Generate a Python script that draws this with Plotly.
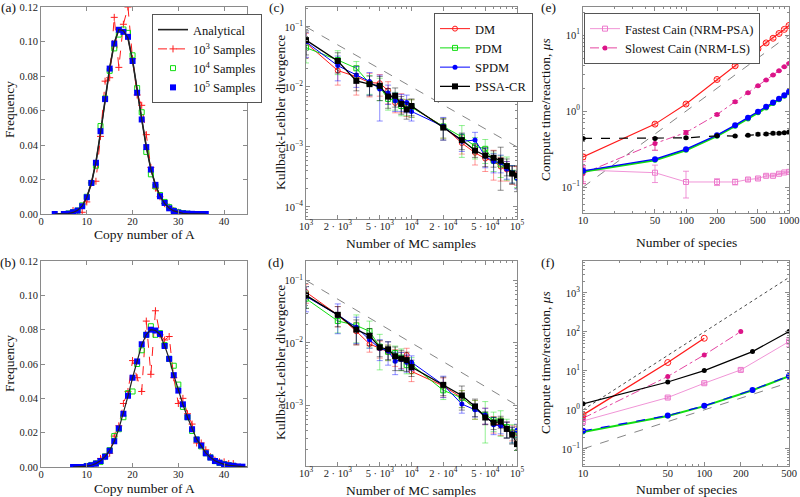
import plotly.graph_objects as go
from plotly.subplots import make_subplots

FONT = "'Liberation Serif', 'DejaVu Serif', serif"
AXIS_GREY = "#8a8a8a"

# ---------------- panel (a) ----------------
a_ana_x = list(range(3, 37))
a_ana_y = [0, 0, 0.0001, 0.0003, 0.0009, 0.0022, 0.0047, 0.0096, 0.0178, 0.0300, 0.0470, 0.0665,
           0.0845, 0.0990, 0.1070, 0.1062, 0.1020, 0.0890, 0.0705, 0.0550, 0.0390, 0.0260, 0.0168,
           0.0104, 0.0062, 0.0035, 0.0018, 0.0009, 0.0004, 0.0002, 0.0001, 0, 0, 0]
a_e3_x = list(range(7, 31))
a_e3_y = [0.002, 0.001, 0.001, 0.007, 0.018, 0.019, 0.045, 0.077, 0.079, 0.114, 0.085, 0.110,
          0.120, 0.090, 0.069, 0.063, 0.046, 0.027, 0.015, 0.010, 0.006, 0.004, 0.002, 0.001]
a_e4_x = list(range(5, 34))
a_e4_y = [0, 0.0003, 0.001, 0.002, 0.005, 0.010, 0.018, 0.028, 0.051, 0.067, 0.083, 0.096, 0.104,
          0.107, 0.105, 0.092, 0.073, 0.059, 0.036, 0.023, 0.016, 0.011, 0.007, 0.004, 0.002,
          0.001, 0.0005, 0.0002, 0]
a_e5_x = [3] + list(range(5, 37))
a_e5_y = [0, 0, 0.0002, 0.001, 0.002, 0.0045, 0.0097, 0.018, 0.0297, 0.048, 0.0666, 0.0843,
          0.0988, 0.1068, 0.1056, 0.1027, 0.0887, 0.0703, 0.0548, 0.0388, 0.0258, 0.0169, 0.0103,
          0.0064, 0.0033, 0.0017, 0.0008, 0.0004, 0.0002, 0.0001, 0, 0, 0]

# ---------------- panel (b) ----------------
b_ana_x = list(range(7, 46))
b_ana_y = [0, 0.0001, 0.0002, 0.0005, 0.001, 0.002, 0.0036, 0.006, 0.0096, 0.0148, 0.0222,
           0.031, 0.0413, 0.052, 0.0618, 0.0712, 0.0772, 0.0800, 0.0795, 0.0772, 0.0708, 0.0630,
           0.0536, 0.0446, 0.0364, 0.0290, 0.0222, 0.0162, 0.0123, 0.0082, 0.0056, 0.0036, 0.0025,
           0.0015, 0.001, 0.0006, 0.0003, 0.0002, 0.0001]
b_e3_x = list(range(12, 44))
b_e3_y = [0.002, 0.005, 0.006, 0.008, 0.018, 0.024, 0.037, 0.044, 0.062, 0.052, 0.044, 0.085,
          0.054, 0.091, 0.077, 0.074, 0.076, 0.052, 0.037, 0.040, 0.031, 0.025, 0.014, 0.014,
          0.010, 0.006, 0.004, 0.003, 0.003, 0.002, 0.002, 0]
b_e4_x = list(range(10, 43))
b_e4_y = [0.0006, 0.0012, 0.0021, 0.0030, 0.0062, 0.0098, 0.018, 0.022, 0.029, 0.043, 0.044,
          0.060, 0.068, 0.077, 0.082, 0.077, 0.078, 0.071, 0.063, 0.059, 0.048, 0.035, 0.029,
          0.021, 0.016, 0.012, 0.008, 0.0056, 0.0034, 0.0024, 0.0016, 0.0011, 0.0007]
b_e5_x = list(range(7, 45))
b_e5_y = [0, 0, 0, 0.0005, 0.001, 0.002, 0.0035, 0.006, 0.0095, 0.015, 0.0225, 0.031, 0.0415,
          0.052, 0.0615, 0.0715, 0.077, 0.080, 0.0795, 0.0775, 0.0705, 0.063, 0.0535, 0.0445,
          0.0365, 0.029, 0.022, 0.016, 0.0125, 0.008, 0.0055, 0.0035, 0.0025, 0.0015, 0.001,
          0.0007, 0.0003, 0.0002]

# ---------------- panels (c) and (d) ----------------
mc_x = [1000, 2000, 3000, 4000, 5000, 6000, 7000, 8000, 9000, 10000,
        20000, 30000, 40000, 50000, 60000, 70000, 80000, 90000, 100000]
mc_ref_x = [1000, 100000]
mc_ref_y = [0.1, 0.001]

c_dm = [0.054, 0.0187, 0.0148, 0.0118, 0.0115, 0.0087, 0.0054, 0.0057, 0.0047, 0.0046,
        0.0022, 0.00116, 0.0008, 0.00064, 0.00058, 0.00047, 0.00042, 0.00036, 0.00035]
c_dm_err = [0.024, 0.008, 0.0075, 0.005, 0.0045, 0.0035, 0.0017, 0.002, 0.0015, 0.0015,
            0.0008, 0.0004, 0.0003, 0.00025, 0.0003, 0.0002, 0.00015, 0.00012, 0.00012]
c_pdm = [0.045, 0.028, 0.0204, 0.0115, 0.0099, 0.0063, 0.0061, 0.0048, 0.0047, 0.0046,
         0.0022, 0.00147, 0.00103, 0.00093, 0.00059, 0.00051, 0.00048, 0.00037, 0.00031]
c_pdm_err = [0.02, 0.012, 0.006, 0.004, 0.004, 0.0022, 0.002, 0.0015, 0.0014, 0.0015,
             0.0008, 0.0008, 0.0004, 0.0004, 0.0002, 0.0002, 0.0002, 0.00012, 0.0001]
c_spdm = [0.056, 0.0226, 0.0158, 0.0123, 0.0092, 0.0079, 0.0059, 0.0057, 0.0055, 0.0039,
          0.0022, 0.00124, 0.0013, 0.0007, 0.00057, 0.00055, 0.00043, 0.00037, 0.0003]
c_spdm_err = [0.025, 0.01, 0.006, 0.005, 0.0065, 0.0028, 0.002, 0.0018, 0.0018, 0.0012,
              0.0009, 0.0004, 0.00045, 0.00025, 0.0002, 0.00018, 0.00014, 0.00012, 0.0001]
c_pssa = [0.060, 0.027, 0.0126, 0.0111, 0.0104, 0.0069, 0.0071, 0.0052, 0.0042, 0.0048,
          0.0021, 0.0013, 0.00087, 0.00072, 0.00066, 0.00059, 0.00048, 0.00036, 0.00033]
c_pssa_err = [0.026, 0.01, 0.004, 0.004, 0.0045, 0.0025, 0.0025, 0.0017, 0.0013, 0.0015,
              0.0008, 0.0004, 0.0002, 0.00025, 0.0002, 0.0004, 0.00015, 0.00012, 0.00015]

d_dm = [0.065, 0.028, 0.0153, 0.0096, 0.0082, 0.0072, 0.0060, 0.0055, 0.0064, 0.0035,
        0.00205, 0.00132, 0.0009, 0.0007, 0.00051, 0.00048, 0.00042, 0.00037, 0.00036]
d_dm_err = [0.022, 0.01, 0.006, 0.0025, 0.0025, 0.002, 0.0018, 0.0016, 0.0018, 0.0011,
            0.0007, 0.0004, 0.0003, 0.0002, 0.00015, 0.00015, 0.00012, 0.0001, 0.0001]
d_pdm = [0.051, 0.0224, 0.019, 0.0153, 0.0087, 0.0072, 0.0069, 0.0058, 0.0044, 0.0045,
         0.00174, 0.00132, 0.0009, 0.0007, 0.00058, 0.00057, 0.00045, 0.00037, 0.00034]
d_pdm_err = [0.015, 0.008, 0.009, 0.007, 0.005, 0.002, 0.002, 0.0022, 0.0012, 0.0013,
             0.0005, 0.0004, 0.0003, 0.00045, 0.0002, 0.00025, 0.00015, 0.00012, 0.00015]
d_spdm = [0.0554, 0.028, 0.0178, 0.0112, 0.0082, 0.0074, 0.0051, 0.0054, 0.0049, 0.0049,
          0.00213, 0.00105, 0.00085, 0.0007, 0.00049, 0.00047, 0.00042, 0.00035, 0.0004]
d_spdm_err = [0.024, 0.014, 0.008, 0.003, 0.003, 0.003, 0.002, 0.0016, 0.0015, 0.0013,
              0.0008, 0.0003, 0.0002, 0.0002, 0.00015, 0.00012, 0.00012, 0.0001, 0.0001]
d_pssa = [0.0575, 0.0281, 0.0163, 0.013, 0.0085, 0.0079, 0.0061, 0.0056, 0.0053, 0.0041,
          0.00213, 0.00144, 0.00096, 0.00064, 0.00053, 0.00055, 0.00042, 0.00034, 0.00024]
d_pssa_err = [0.022, 0.01, 0.007, 0.004, 0.0025, 0.0025, 0.0025, 0.002, 0.0018, 0.0012,
              0.0007, 0.0006, 0.0003, 0.00015, 0.00012, 0.00012, 0.00012, 0.0001, 0.00005]

# ---------------- panel (e) ----------------
e_x = [10, 50, 100, 200, 300, 400, 500, 600, 700, 800, 900, 1000]
e_ref_x = [10, 1000]
e_ref_y = [0.1, 10]
e_dm = [0.25, 0.675, 1.24, 2.61, 3.95, 5.3, 6.6, 7.9, 9.1, 10.5, 11.9, 13.4]
e_dm_err = [0.02, 0.03, 0.05, 0.1, 0.15, 0.2, 0.25, 0.3, 0.35, 0.4, 0.45, 0.5]
e_pdm = [0.159, 0.226, 0.306, 0.468, 0.634, 0.79, 0.95, 1.10, 1.26, 1.41, 1.57, 1.74]
e_spdm = [0.164, 0.233, 0.316, 0.483, 0.654, 0.817, 0.98, 1.14, 1.30, 1.45, 1.62, 1.80]
e_pssa = [0.437, 0.437, 0.445, 0.473, 0.47, 0.48, 0.497, 0.50, 0.51, 0.51, 0.52, 0.53]
e_pssa_err = [0.01, 0.01, 0.01, 0.01, 0.01, 0.015, 0.02, 0.02, 0.02, 0.015, 0.015, 0.015]
e_fast = [0.168, 0.155, 0.117, 0.117, 0.117, 0.126, 0.13, 0.141, 0.141, 0.15, 0.156, 0.159]
e_fast_err = [0.05, 0.04, 0.045, 0.012, 0.01, 0.006, 0.005, 0.005, 0.004, 0.004, 0.004, 0.004]
e_slow = [0.151, 0.376, 0.524, 0.904, 1.33, 1.74, 2.15, 2.56, 2.98, 3.4, 3.83, 4.24]
e_slow_err = [0.04, 0.07, 0.03, 0.03, 0.04, 0.04, 0.04, 0.05, 0.05, 0.05, 0.06, 0.06]

# ---------------- panel (f) ----------------
f_ref_x = [10, 500]
f_ref_lin = [0.1, 5]
f_ref_quad = [1, 2500]
f_dm_x = [10, 50, 100]
f_dm = [0.745, 16.4, 68.8]
f_slow_x = [10, 50, 100, 200]
f_slow = [0.61, 7.2, 25.7, 102]
f_pssa_x = [10, 50, 100, 250, 500]
f_pssa = [1.43, 5.2, 10.2, 31.3, 102]
f_fast_x = [10, 50, 100, 200, 500]
f_fast = [0.52, 2.07, 4.83, 10.6, 56.5]
f_fast_err = [0.1, 0.15, 0.3, 0.8, 15]
f_sp_x = [10, 50, 100, 250, 500]
f_pdm = [0.27, 0.70, 1.25, 3.2, 7.3]
f_spdm = [0.29, 0.716, 1.27, 3.26, 7.45]

RED = "#ff1a1a"
GREEN = "#10dd10"
BLUE = "#0000ff"
BLACK = "#000000"
PINK = "#ec78cc"
MAGENTA = "#dc1488"


def rgba(hexc, a):
    h = hexc.lstrip("#")
    return "rgba(%d,%d,%d,%.2f)" % (int(h[0:2], 16), int(h[2:4], 16), int(h[4:6], 16), a)


fig = make_subplots(rows=2, cols=3)


def add(x, y, row, col, color, symbol, dash="solid", width=1.0, size=5, err=None,
        name=None, legend=None, mode="lines+markers", opacity_err=0.45):
    open_sym = symbol.endswith("open") or symbol.startswith("cross-thin")
    marker = dict(symbol=symbol, size=size, color=color,
                  line=dict(width=1 if open_sym else 0, color=color))
    tr = go.Scatter(x=x, y=y, mode=mode, marker=marker,
                    line=dict(color=color, width=width, dash=dash),
                    name=name, showlegend=name is not None)
    if legend:
        tr.legend = legend
    if err is not None:
        tr.error_y = dict(type="data", array=err, color=rgba(color, opacity_err),
                          thickness=1, width=3)
    fig.add_trace(tr, row=row, col=col)


# (a)
add(a_ana_x, a_ana_y, 1, 1, "#222222", "circle", width=1.6, mode="lines",
    name="Analytical", legend="legend")
add(a_e3_x, a_e3_y, 1, 1, RED, "cross-thin", dash="dash", size=5,
    name="10<sup>3</sup> Samples", legend="legend")
add(a_e4_x, a_e4_y, 1, 1, GREEN, "square-open", mode="markers", size=5,
    name="10<sup>4</sup> Samples", legend="legend")
add(a_e5_x, a_e5_y, 1, 1, BLUE, "square", mode="markers", size=6,
    name="10<sup>5</sup> Samples", legend="legend")
add(a_ana_x, a_ana_y, 1, 1, "#222222", "circle", width=1.2, mode="lines")

# (b)
add(b_e3_x, b_e3_y, 2, 1, RED, "cross-thin", dash="dash", size=5)
add(b_e4_x, b_e4_y, 2, 1, GREEN, "square-open", mode="markers", size=5)
add(b_e5_x, b_e5_y, 2, 1, BLUE, "square", mode="markers", size=6)
add(b_ana_x, b_ana_y, 2, 1, "#222222", "circle", width=1.2, mode="lines")

# (c) and (d)
for row, dm, dme, pdm, pdme, sp, spe, ps, pse in [
        (1, c_dm, c_dm_err, c_pdm, c_pdm_err, c_spdm, c_spdm_err, c_pssa, c_pssa_err),
        (2, d_dm, d_dm_err, d_pdm, d_pdm_err, d_spdm, d_spdm_err, d_pssa, d_pssa_err)]:
    fig.add_trace(go.Scatter(x=mc_ref_x, y=mc_ref_y, mode="lines", showlegend=False,
                             line=dict(color="#666666", width=0.8, dash="dash")), row=row, col=2)
    lg = "legend2" if row == 1 else None
    add(mc_x, dm, row, 2, RED, "circle-open", err=dme, name="DM" if row == 1 else None, legend=lg)
    add(mc_x, pdm, row, 2, GREEN, "square-open", err=pdme, name="PDM" if row == 1 else None, legend=lg)
    add(mc_x, sp, row, 2, BLUE, "circle", err=spe, name="SPDM" if row == 1 else None, legend=lg)
    add(mc_x, ps, row, 2, BLACK, "square", size=6, width=1.3, err=pse,
        name="PSSA-CR" if row == 1 else None, legend=lg)

# (e)
fig.add_trace(go.Scatter(x=e_ref_x, y=e_ref_y, mode="lines", showlegend=False,
                         line=dict(color="#666666", width=0.8, dash="dash")), row=1, col=3)
add(e_x, e_fast, 1, 3, PINK, "square-open", width=0.8, err=e_fast_err,
    name="Fastest Cain (NRM-PSA)", legend="legend3", opacity_err=0.8)
add(e_x, e_slow, 1, 3, MAGENTA, "circle", dash="dashdot", width=0.8, size=5, err=e_slow_err,
    name="Slowest Cain (NRM-LS)", legend="legend3", opacity_err=0.8)
add(e_x, e_dm, 1, 3, RED, "circle-open", width=1.1, size=6, err=e_dm_err)
add(e_x, e_pdm, 1, 3, GREEN, "circle", width=2, size=5)
add(e_x, e_spdm, 1, 3, BLUE, "circle", width=1.3, size=6)
add(e_x, e_pssa, 1, 3, BLACK, "circle", dash="dash", width=1.2, size=5, err=e_pssa_err)

# (f)
fig.add_trace(go.Scatter(x=f_ref_x, y=f_ref_lin, mode="lines", showlegend=False,
                         line=dict(color="#666666", width=0.8, dash="dash")), row=2, col=3)
fig.add_trace(go.Scatter(x=f_ref_x, y=f_ref_quad, mode="lines", showlegend=False,
                         line=dict(color="#333333", width=0.9, dash="dot")), row=2, col=3)
add(f_fast_x, f_fast, 2, 3, PINK, "square-open", width=0.8, err=f_fast_err, opacity_err=0.8)
add(f_slow_x, f_slow, 2, 3, MAGENTA, "circle", dash="dashdot", width=0.8)
add(f_dm_x, f_dm, 2, 3, RED, "circle-open", width=1.3, size=6)
add(f_pssa_x, f_pssa, 2, 3, BLACK, "circle", width=1.2)
add(f_sp_x, f_pdm, 2, 3, GREEN, "circle", width=2)
add(f_sp_x, f_spdm, 2, 3, BLUE, "circle", dash="dash", width=1.2, size=6)


def sup(base, e):
    return "%s<sup>%s</sup>" % (base, str(e).replace("-", "\u2212"))


def decades(lo, hi):
    return [10.0 ** e for e in range(lo, hi + 1)], [sup("10", e) for e in range(lo, hi + 1)]


def minors(lo, hi, skip=()):
    return [m * 10.0 ** e for e in range(lo, hi + 1) for m in range(2, 10) if m not in skip]


common = dict(showline=True, linecolor=AXIS_GREY, linewidth=1, mirror="ticks", ticks="inside",
              ticklen=4, tickcolor=AXIS_GREY, showgrid=False, zeroline=False, automargin=False,
              tickfont=dict(family=FONT, size=10.5, color="#222222"))
minor_style = dict(ticks="inside", ticklen=2, tickcolor=AXIS_GREY, showgrid=False)

xd = [[41 / 800, 247 / 800], [306 / 800, 517 / 800], [583 / 800, 789 / 800]]
yd = {(1, 1): [1 - 214 / 497, 1 - 7 / 497], (2, 1): [1 - 467 / 497, 1 - 261 / 497],
      (1, 2): [1 - 219 / 497, 1 - 7 / 497], (2, 2): [1 - 466 / 497, 1 - 261 / 497],
      (1, 3): [1 - 213 / 497, 1 - 7 / 497], (2, 3): [1 - 466 / 497, 1 - 261 / 497]}

for r in (1, 2):
    for c in (1, 2, 3):
        fig.update_xaxes(domain=xd[c - 1], row=r, col=c, ticklabelstandoff=-3, **common)
        fig.update_yaxes(domain=yd[(r, c)], row=r, col=c, **common)

# (a)/(b) linear axes
for r in (1, 2):
    fig.update_xaxes(range=[0, 45], tickvals=[0, 10, 20, 30, 40], row=r, col=1)
    fig.update_yaxes(range=[0, 0.12], tickvals=[0, 0.02, 0.04, 0.06, 0.08, 0.10, 0.12],
                     tickformat=".2f", row=r, col=1)

# (c)/(d)
mc_tv = [1e3, 2e3, 5e3, 1e4, 2e4, 5e4, 1e5]
mc_tt = [sup("10", 3), "2 \u00b7 " + sup("10", 3), "5 \u00b7 " + sup("10", 3), sup("10", 4),
         "2 \u00b7 " + sup("10", 4), "5 \u00b7 " + sup("10", 4), sup("10", 5)]
kl_tv, kl_tt = decades(-4, -1)
for r, yr in ((1, [-4.2, -0.67]), (2, [-3.97, -0.69])):
    fig.update_xaxes(type="log", range=[3, 5], tickvals=mc_tv, ticktext=mc_tt,
                     minor=dict(tickvals=minors(3, 4, skip=(2, 5)), **minor_style), row=r, col=2)
    fig.update_yaxes(type="log", range=yr, tickvals=kl_tv, ticktext=kl_tt,
                     minor=dict(tickvals=minors(-5, -1), **minor_style), row=r, col=2)

# (e)
ct_tv, ct_tt = decades(-1, 3)
fig.update_xaxes(type="log", range=[1, 3], tickvals=[10, 50, 100, 200, 500, 1000],
                 ticktext=["10", "50", "100", "200", "500", "1000"],
                 minor=dict(tickvals=minors(1, 2, skip=(5,)) + [200, 500], **minor_style),
                 row=1, col=3)
fig.update_yaxes(type="log", range=[-1.34, 1.37], tickvals=ct_tv[:3], ticktext=ct_tt[:3],
                 minor=dict(tickvals=minors(-2, 1), **minor_style), row=1, col=3)
# (f)
fig.update_xaxes(type="log", range=[1, 2.699], tickvals=[10, 50, 100, 200, 500],
                 ticktext=["10", "50", "100", "200", "500"],
                 minor=dict(tickvals=minors(1, 2, skip=(5,)), **minor_style), row=2, col=3)
fig.update_yaxes(type="log", range=[-1.44, 3.82], tickvals=ct_tv, ticktext=ct_tt,
                 minor=dict(tickvals=minors(-2, 3), **minor_style), row=2, col=3)

tfont = dict(family=FONT, size=13.5, color="#111111")
ann = []
for txt, x, y in [("(a)", 8, 8), ("(b)", 8, 262), ("(c)", 276, 8), ("(d)", 276, 262),
                  ("(e)", 548, 8), ("(f)", 548, 262)]:
    ann.append(dict(text=txt, x=x / 800, y=1 - y / 497, xref="paper", yref="paper",
                    xanchor="center", yanchor="middle", showarrow=False, font=tfont))
for txt, x, y in [("Frequency", 9, 110), ("Frequency", 9, 364),
                  ("Kullback-Leibler divergence", 280, 113),
                  ("Kullback-Leibler divergence", 280, 363),
                  ("Compute time/reaction, <i>\u03bcs</i>", 545, 110),
                  ("Compute time/reaction, <i>\u03bcs</i>", 545, 363)]:
    ann.append(dict(text=txt, x=x / 800, y=1 - y / 497, xref="paper", yref="paper",
                    xanchor="center", yanchor="middle", showarrow=False, font=tfont,
                    textangle=-90))
for txt, x, y in [("Copy number of A", 144, 234), ("Copy number of A", 144, 488),
                  ("Number of MC samples", 411, 243), ("Number of MC samples", 411, 490),
                  ("Number of species", 686, 242), ("Number of species", 686, 489)]:
    ann.append(dict(text=txt, x=x / 800, y=1 - y / 497, xref="paper", yref="paper",
                    xanchor="center", yanchor="middle", showarrow=False, font=tfont))

lgstyle = dict(bgcolor="white", bordercolor="#555555", borderwidth=1,
               font=dict(family=FONT, size=12.5, color="#111111"), tracegroupgap=0,
               itemwidth=30, xanchor="left", yanchor="top")
fig.update_layout(
    template="none",
    width=800, height=497, margin=dict(l=0, r=0, t=0, b=0, autoexpand=False),
    paper_bgcolor="white", plot_bgcolor="white",
    font=dict(family=FONT, size=12, color="#111111"),
    annotations=ann,
    legend=dict(x=152 / 800, y=1 - 14 / 497, **lgstyle),
    legend2=dict(x=434 / 800, y=1 - 13 / 497, **lgstyle),
    legend3=dict(x=584 / 800, y=1 - 13 / 497, **lgstyle),
)

# the page body has a default 8px margin; remove it so the figure fills the window
fig.write_html("out.html", config={"displayModeBar": False},
               post_script="document.body.style.margin='0';")
